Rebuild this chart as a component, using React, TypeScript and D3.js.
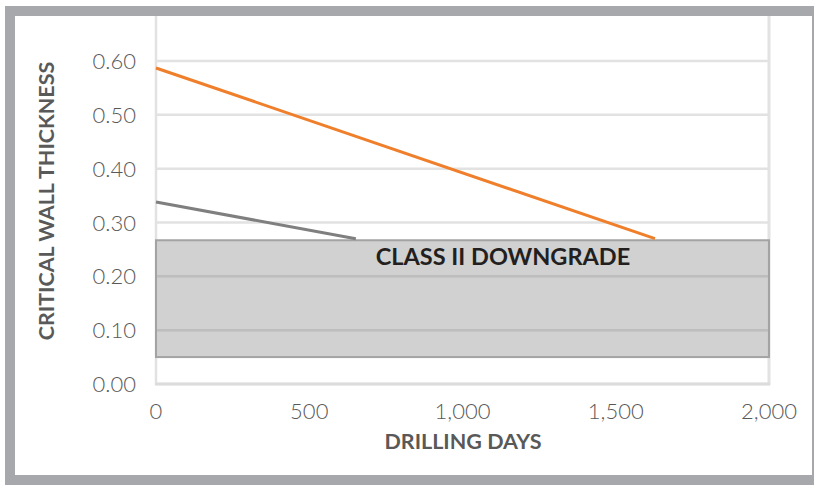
import React from "react";
import * as d3 from "d3";

const xTicks = [0, 500, 1000, 1500, 2000];
const yTicks = [0, 0.1, 0.2, 0.3, 0.4, 0.5, 0.6];
const orangeDays = [0, 1628];
const orangeValues = [0.587, 0.27];
const grayDays = [0, 652];
const grayValues = [0.338, 0.27];
const zoneDays = [0, 2000];
const zoneValues = [0.05, 0.267];
const zoneLabel = "CLASS II DOWNGRADE";
const xTitle = "DRILLING DAYS";
const yTitle = "CRITICAL WALL THICKNESS";

export default function App() {
  const W = 815, H = 485;
  const x = d3.scaleLinear().domain([0, 2000]).range([156, 769]);
  const y = d3.scaleLinear().domain([0, 0.6]).range([384, 61]);
  const line = d3.line<[number, number]>().x(d => x(d[0])).y(d => y(d[1]));
  const orange = orangeDays.map((d, i) => [d, orangeValues[i]] as [number, number]);
  const gray = grayDays.map((d, i) => [d, grayValues[i]] as [number, number]);
  const font = "Lato, 'Open Sans', sans-serif";
  return (
    <svg width={W} height={H} style={{ position: "absolute", left: 0, top: 0, background: "#fff" }}>
      {/* frame */}
      <rect x={5} y={6} width={809} height={479} fill="#a7a8ab" />
      <rect x={15} y={16} width={797} height={459} fill="#fff" />
      {/* gridlines */}
      {yTicks.map(t => (
        <line key={t} x1={x(0)} x2={x(2000)} y1={y(t)} y2={y(t)} stroke="#e2e2e2" strokeWidth={2.5} />
      ))}
      <line x1={x(0)} x2={x(0)} y1={16} y2={y(0) + 1} stroke="#e2e2e2" strokeWidth={2.5} />
      <line x1={x(2000)} x2={x(2000)} y1={16} y2={y(0) + 1} stroke="#e2e2e2" strokeWidth={3} />
      <line x1={x(0) - 1} x2={x(2000) + 1} y1={y(0)} y2={y(0)} stroke="#dcdcdc" strokeWidth={3} />
      {/* zone */}
      <rect x={x(zoneDays[0])} y={y(zoneValues[1])} width={x(zoneDays[1]) - x(zoneDays[0])}
        height={y(zoneValues[0]) - y(zoneValues[1])} fill="#c4c5c4" fillOpacity={0.8} stroke="#a2a3a2" strokeWidth={2} />
      {yTicks.filter(t => t > zoneValues[0] && t < zoneValues[1]).map(t => (
        <line key={"z" + t} x1={x(0) + 1} x2={x(2000) - 1} y1={y(t)} y2={y(t)} stroke="#bcbdbc" strokeWidth={2.5} />
      ))}
      <text x={503} y={265} textAnchor="middle" fontFamily={font} fontWeight={700} fontSize={23.5} fill="#231f20">{zoneLabel}</text>
      {/* lines */}
      <path d={line(gray) || ""} fill="none" stroke="#7f7f7f" strokeWidth={3} />
      <path d={line(orange) || ""} fill="none" stroke="#f07f2b" strokeWidth={3} />
      {/* ticks */}
      {yTicks.map(t => (
        <text key={"yt" + t} x={136} y={y(t) + 8} textAnchor="end" fontFamily={font} fontWeight={300} fontSize={22} fill="#595959">{t.toFixed(2)}</text>
      ))}
      {xTicks.map(t => (
        <text key={"xt" + t} x={x(t)} y={419} textAnchor="middle" fontFamily={font} fontWeight={300} fontSize={22} fill="#595959">{d3.format(",")(t)}</text>
      ))}
      <text x={463} y={449} textAnchor="middle" fontFamily={font} fontWeight={700} fontSize={21.5} fill="#595959">{xTitle}</text>
      <text transform={`translate(54,201) rotate(-90)`} textAnchor="middle" fontFamily={font} fontWeight={700} fontSize={21.5} fill="#595959">{yTitle}</text>
    </svg>
  );
}
